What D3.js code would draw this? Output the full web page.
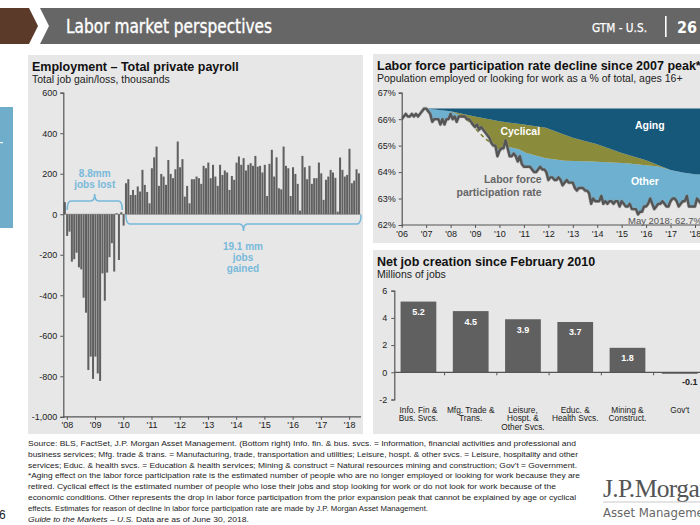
<!DOCTYPE html>
<html><head><meta charset="utf-8">
<script src="https://cdn.jsdelivr.net/npm/d3@7"></script>
<style>
body{margin:0;background:#fff}
svg{display:block}
text{font-family:"Liberation Sans",Arial,Helvetica,sans-serif}
</style>
</head><body>
<svg id="c" width="700" height="525"></svg>
<script>
// ---------------- DATA ----------------
// Monthly private payroll change, thousands, Jan 2008 - Jun 2018
const payroll = [
  60,-107,-86,-234,-222,-190,-262,-272,-412,-486,-769,-703,          // 2008
  -813,-703,-786,-823,-292,-427,-288,-212,-143,-283,5,-226,          // 2009
  10,-56,153,173,95,120,95,137,112,219,145,110,                       // 2010
  54,227,281,334,140,199,186,145,268,199,178,222,                     // 2011
  359,232,272,87,140,54,173,173,186,178,150,239,                      // 2012
  227,255,178,244,186,140,244,194,216,206,120,189,                    // 2013
  170,255,285,244,277,216,244,252,239,288,235,239,                    // 2014
  206,244,90,249,318,186,281,128,123,334,239,227,                     // 2015
  90,232,199,150,18,288,232,173,239,150,178,178,                      // 2016
  255,202,71,170,186,219,206,180,13,280,219,186,                      // 2017
  194,323,153,166,222,202                                             // 2018
];
const payYearLabels = ["'08","'09","'10","'11","'12","'13","'14","'15","'16","'17","'18"];
const payTicks = [600,400,200,0,-200,-400,-600,-800,-1000];

// Labor force participation rate, monthly, Jan 2006 - May 2018 (%)
const lfpr = [
  66.0,66.1,66.2,66.1,66.1,66.2,66.1,66.2,66.1,66.2,66.3,66.4,
  66.4,66.3,66.2,65.9,66.0,66.0,66.0,65.8,66.0,65.8,66.0,66.0,
  66.2,66.0,66.1,65.9,66.1,66.1,66.1,66.1,66.0,66.0,65.9,65.8,
  65.7,65.8,65.6,65.7,65.6,65.5,65.4,65.3,65.1,65.0,65.0,64.6,
  64.8,64.9,64.9,65.2,64.9,64.6,64.6,64.7,64.6,64.4,64.6,64.3,
  64.2,64.2,64.2,64.2,64.1,64.0,64.0,64.1,64.2,64.1,64.1,64.0,
  63.7,63.8,63.8,63.7,63.7,63.8,63.7,63.5,63.6,63.7,63.6,63.6,
  63.6,63.4,63.3,63.4,63.4,63.4,63.3,63.3,63.2,62.8,63.0,62.9,
  62.9,62.9,63.1,62.8,62.9,62.8,62.9,62.9,62.8,62.9,62.9,62.7,
  62.9,62.8,62.7,62.7,62.8,62.6,62.6,62.6,62.4,62.5,62.5,62.7,
  62.7,62.8,63.0,62.8,62.6,62.7,62.8,62.8,62.9,62.8,62.7,62.7,
  62.9,63.0,63.0,62.9,62.7,62.8,62.9,62.9,63.1,62.7,62.7,62.7,
  62.7,63.0,62.9,62.8,62.7
];
const lfprStartYear = 2006;
const peakLevel = 66.4;
// [year, %] boundary below "Aging" band
const agingBoundary = [[2007.0,66.4],[2008.0,66.3],[2009.0,66.1],[2010.0,65.92],[2011.0,65.8],[2011.9,65.68],
  [2012.5,65.47],[2013.0,65.3],[2014.0,65.05],[2015.0,64.72],[2016.0,64.45],[2017.0,64.08],[2017.5,63.98],
  [2018.0,63.92],[2018.42,63.9]];
// [year, %] boundary below "Cyclical" band
const cyclicalBoundary = [[2007.0,66.4],[2008.0,66.3],[2008.4,66.15],[2008.8,65.87],[2009.13,65.53],[2009.4,65.28],
  [2009.67,65.09],[2009.95,64.9],[2010.16,64.81],[2010.35,64.96],[2010.8,64.86],[2011.1,64.72],[2011.9,64.52],
  [2012.7,64.43],[2013.8,64.4],[2015.2,64.33],[2016.5,64.21],[2017.0,64.08],[2017.5,63.98],[2018.0,63.92],[2018.42,63.9]];
const dashedCyclical = [[2008.4,66.15],[2008.8,65.87],[2009.13,65.53],[2009.4,65.28],[2009.67,65.09],[2009.95,64.9],[2010.16,64.81]];
const lfprTicks = [67,66,65,64,63,62];
const lfprYearLabels = ["'06","'07","'08","'09","'10","'11","'12","'13","'14","'15","'16","'17","'18"];

// Net job creation since Feb 2010, millions
const sectors = [["Info. Fin &","Bus. Svcs."],["Mfg. Trade &","Trans."],["Leisure,","Hospt. &","Other Svcs."],
  ["Educ. &","Health Svcs."],["Mining &","Construct."],["Gov't"]];
const sectorValues = [5.2,4.5,3.9,3.7,1.8,-0.1];
const sectorTicks = [6,4,2,0,-2];

const footnotes = [
 "Source: BLS, FactSet, J.P. Morgan Asset Management. (Bottom right) Info. fin. & bus. svcs. = Information, financial activities and professional and",
 "business services; Mfg. trade & trans. = Manufacturing, trade, transportation and utilities; Leisure, hospt. & other svcs. = Leisure, hospitality and other",
 "services; Educ. & health svcs. = Education & health services; Mining & construct = Natural resources mining and construction; Gov't = Government.",
 "*Aging effect on the labor force participation rate is the estimated number of people who are no longer employed or looking for work because they are",
 "retired. Cyclical effect is the estimated number of people who lose their jobs and stop looking for work or do not look for work because of the",
 "economic conditions. Other represents the drop in labor force participation from the prior expansion peak that cannot be explained by age or cyclical",
 "effects. Estimates for reason of decline in labor force participation rate are made by J.P. Morgan Asset Management."
];
const footLengths = [548,550,549,552,528,548,400];

// ---------------- DRAW ----------------
const svg = d3.select("#c");
const fmt = v => d3.format(",")(v).replace("\u2212","-");
const PANEL = "#e7e7e7", BAR = "#606060", AX = "#555";

// header
svg.append("polygon").attr("points","0,8 29,8 38,26 29,44 0,44").attr("fill","#5c3a2a");
svg.append("polygon").attr("points","40,8 700,8 700,44 40,44 49,26").attr("fill","#666");
const cond = "'DejaVu Sans Condensed','DejaVu Sans',sans-serif";
svg.append("text").text("Labor market perspectives").attr("x",66).attr("y",33)
  .attr("fill","#fff").attr("stroke","#fff").attr("stroke-width",0.35)
  .style("font-family",cond).attr("font-size",19.5)
  .attr("textLength",206).attr("lengthAdjust","spacingAndGlyphs");
svg.append("text").text("GTM - U.S.").attr("x",592).attr("y",32).attr("fill","#fff")
  .attr("stroke","#fff").attr("stroke-width",0.25)
  .style("font-family",cond).attr("font-size",13).attr("textLength",55).attr("lengthAdjust","spacingAndGlyphs");
svg.append("rect").attr("x",665).attr("y",16).attr("width",1.6).attr("height",21).attr("fill","#fff");
svg.append("text").text("26").attr("x",677).attr("y",33).attr("fill","#fff")
  .style("font-family",cond).attr("font-size",16).attr("font-weight","bold");

// side fragments
svg.append("rect").attr("x",0).attr("y",107).attr("width",13).attr("height",121).attr("fill","#6fadca");
svg.append("rect").attr("x",0).attr("y",142).attr("width",3).attr("height",1.2).attr("fill","#fff");
svg.append("text").text("6").attr("x",-1).attr("y",519).attr("font-size",12).attr("fill","#222");

// panels
svg.append("rect").attr("x",28).attr("y",55).attr("width",335).attr("height",379).attr("fill",PANEL);
svg.append("rect").attr("x",373).attr("y",54).attr("width",327).attr("height",189).attr("fill",PANEL);
svg.append("rect").attr("x",373).attr("y",250).attr("width",327).attr("height",184).attr("fill",PANEL);

function title(x,y,t,s){
  svg.append("text").text(t).attr("x",x).attr("y",y).attr("font-size",12.5).attr("font-weight","bold").attr("fill","#111");
  svg.append("text").text(s).attr("x",x).attr("y",y+12).attr("font-size",10.5).attr("fill","#222");
}
function styleAxis(g){
  g.selectAll(".domain").attr("stroke",AX).attr("stroke-width",1.2);
  g.selectAll(".tick line").attr("stroke",AX);
  g.selectAll(".tick text").attr("fill","#222").attr("font-size",9)
   .style("font-family","'Liberation Sans',Arial,sans-serif");
}

// ===== Left chart =====
title(32,71,"Employment \u2013 Total private payroll","Total job gain/loss, thousands");
const yL = d3.scaleLinear().domain([-1000,600]).range([416.8,92.7]);
const xL = d3.scaleBand().domain(d3.range(payroll.length)).range([63.8,63.8+payroll.length*2.35]).paddingInner(0.14);
svg.append("line").attr("x1",63).attr("x2",361).attr("y1",yL(0)).attr("y2",yL(0)).attr("stroke","#8a8a8a").attr("stroke-width",0.8);
svg.append("g").selectAll("rect").data(payroll).join("rect")
  .attr("x",(d,i)=>xL(i)).attr("width",xL.bandwidth())
  .attr("y",d=>yL(Math.max(0,d))).attr("height",d=>Math.abs(yL(d)-yL(0)))
  .attr("fill",BAR);
const gyL = svg.append("g").attr("transform","translate(63.3,0)")
  .call(d3.axisLeft(yL).tickValues(payTicks).tickFormat(fmt).tickSize(3).tickPadding(3));
styleAxis(gyL);
const yrScaleL = d3.scalePoint().domain(payYearLabels)
  .range([xL(0)+3, xL(120)+3]);
const gxL = svg.append("g").attr("transform",`translate(0,${yL(-1000)})`)
  .call(d3.axisBottom(yrScaleL).tickSize(3).tickPadding(2));
gxL.select(".domain").attr("d",`M63.3,0H361`);
styleAxis(gxL);

// braces
const BL = "#78b9da";
function brace(x1,x2,y,dir,tip){
  const m=(x1+x2)/2, a=9*dir, r=4;
  return `M${x1},${y+a}Q${x1},${y} ${x1+r},${y}L${m-r},${y}Q${m},${y} ${m},${y-tip*dir}Q${m},${y} ${m+r},${y}L${x2-r},${y}Q${x2},${y} ${x2},${y+a}`;
}
svg.append("path").attr("d",brace(xL(1)+1,xL(24)+2,201,1,7)).attr("fill","none").attr("stroke",BL).attr("stroke-width",1.6);
svg.append("path").attr("d",brace(xL(26)+1,361,224,-1,7)).attr("fill","none").attr("stroke",BL).attr("stroke-width",1.6);
const bt = (x,y,t)=>svg.append("text").text(t).attr("x",x).attr("y",y).attr("text-anchor","middle")
  .attr("font-size",10).attr("font-weight","bold").attr("fill",BL);
const m1 = (xL(1)+xL(24)+3)/2;
bt(m1,177,"8.8mm"); bt(m1,188,"jobs lost");
const m2 = (xL(26)+361)/2;
bt(m2,250,"19.1 mm"); bt(m2,261,"jobs"); bt(m2,272,"gained");

// ===== Right top chart =====
title(377,70,"Labor force participation rate decline since 2007 peak*","Population employed or looking for work as a % of total, ages 16+");
const xR = d3.scaleLinear().domain([2006,2018]).range([401.7,695]);
const yR = d3.scaleLinear().domain([62,67]).range([225,92.7]);
const lf = lfpr.map((v,i)=>[lfprStartYear+i/12,v]);
const defs = svg.append("defs");
defs.append("clipPath").attr("id","aboveLine").append("path")
  .attr("d", d3.area().x(d=>xR(d[0])).y0(d=>yR(d[1])).y1(yR(67.5))(lf));
defs.append("clipPath").attr("id","plotR").append("rect").attr("x",401.7).attr("y",80).attr("width",298.3).attr("height",145);
const gR = svg.append("g").attr("clip-path","url(#plotR)");
const g2 = gR.append("g").attr("clip-path","url(#aboveLine)");
g2.append("path").attr("fill","#6db0cf")
  .attr("d", d3.area().x(d=>xR(d[0])).y0(yR(62)).y1(d=>yR(d[1]))(cyclicalBoundary));
const cycPoly = agingBoundary.map(d=>[xR(d[0]),yR(d[1])])
  .concat(cyclicalBoundary.slice().reverse().map(d=>[xR(d[0]),yR(d[1])]));
g2.append("path").attr("fill","#8b8b3c").attr("d","M"+cycPoly.join("L")+"Z");
gR.append("path").attr("fill","#16587a")
  .attr("d", d3.area().x(d=>xR(d[0])).y0(d=>yR(d[1])).y1(yR(peakLevel))(agingBoundary));
gR.append("path").attr("fill","none").attr("stroke","#7f8130").attr("stroke-width",1.6).attr("stroke-dasharray","4,3")
  .attr("d", d3.line().x(d=>xR(d[0])).y(d=>yR(d[1])).curve(d3.curveMonotoneX)(dashedCyclical));
gR.append("path").attr("fill","none").attr("stroke","#9a9a9a").attr("stroke-width",3.6).attr("stroke-linejoin","round").attr("opacity",0.5)
  .attr("d", d3.line().x(d=>xR(d[0])).y(d=>yR(d[1]))(lf));
gR.append("path").attr("fill","none").attr("stroke","#555").attr("stroke-width",2.4).attr("stroke-linejoin","round")
  .attr("d", d3.line().x(d=>xR(d[0])).y(d=>yR(d[1]))(lf));
const gyR = svg.append("g").attr("transform","translate(401.7,0)")
  .call(d3.axisLeft(yR).tickValues(lfprTicks).tickFormat(d=>d+"%").tickSize(3).tickPadding(3));
styleAxis(gyR);
const gxR = svg.append("g").attr("transform",`translate(0,${yR(62)})`)
  .call(d3.axisBottom(xR).tickValues(d3.range(2006,2019)).tickFormat((d,i)=>lfprYearLabels[i]).tickSize(3).tickPadding(3));
gxR.select(".domain").attr("d","M401.7,0H700");
styleAxis(gxR);
const wl = (x,y,t,c,anchor)=>svg.append("text").text(t).attr("x",x).attr("y",y).attr("text-anchor",anchor||"middle")
  .attr("font-size",10.5).attr("font-weight","bold").attr("fill",c);
wl(xR(2016.15),yR(65.62),"Aging","#fff");
wl(xR(2010.85),yR(65.42),"Cyclical","#fff");
wl(xR(2015.95),yR(63.5),"Other","#fff");
wl(541.7,yR(63.57),"Labor force","#666","end");
wl(541.7,yR(63.1),"participation rate","#666","end");
svg.append("text").text("May 2018: 62.7%").attr("x",628).attr("y",224).attr("font-size",9.5).attr("fill","#555");

// ===== Right bottom chart =====
title(377,266,"Net job creation since February 2010","Millions of jobs");
const yB = d3.scaleLinear().domain([-2,6]).range([399.5,290.7]);
const xB = d3.scaleBand().domain(d3.range(sectors.length)).range([394.3,703.9]).paddingInner(0.316).paddingOuter(0.12);
svg.append("g").selectAll("rect").data(sectorValues).join("rect")
  .attr("x",(d,i)=>xB(i)).attr("width",xB.bandwidth())
  .attr("y",d=>yB(Math.max(0,d))).attr("height",d=>Math.max(1.5,Math.abs(yB(d)-yB(0))))
  .attr("fill",BAR);
const gyB = svg.append("g").attr("transform","translate(394.3,0)")
  .call(d3.axisLeft(yB).tickValues(sectorTicks).tickSize(3).tickPadding(4).tickFormat(fmt));
styleAxis(gyB);
const stepB = xB.step();
const x0B = xB(0) - xB.paddingInner()*stepB/2;
svg.append("line").attr("x1",394.3).attr("x2",700).attr("y1",yB(0)).attr("y2",yB(0)).attr("stroke",AX).attr("stroke-width",1.2);
svg.append("g").selectAll("line").data(d3.range(1,sectors.length)).join("line")
  .attr("x1",d=>x0B+d*stepB).attr("x2",d=>x0B+d*stepB).attr("y1",yB(0)).attr("y2",yB(0)+3).attr("stroke",AX);
svg.append("g").selectAll("text").data(sectorValues).join("text")
  .attr("x",(d,i)=>xB(i)+xB.bandwidth()/2+(d<0?10:0))
  .attr("y",d=>d>=0?yB(d)+13.5:yB(0)+13)
  .attr("text-anchor","middle").attr("font-size",9).attr("font-weight","bold")
  .attr("fill",d=>d>=0?"#fff":"#222").text(d=>d.toFixed(1));
sectors.forEach((lines,i)=>{
  lines.forEach((t,j)=>{
    svg.append("text").text(t).attr("x",xB(i)+xB.bandwidth()/2).attr("y",412.5+j*8.6)
      .attr("text-anchor","middle").attr("font-size",8.3).attr("fill","#222");
  });
});

// ===== Footnotes =====
footnotes.forEach((t,i)=>{
  svg.append("text").text(t).attr("x",28).attr("y",446+i*10.8).attr("font-size",7.8).attr("fill","#222")
    .attr("textLength",footLengths[i]).attr("lengthAdjust","spacingAndGlyphs");
});
const last = svg.append("text").attr("x",28).attr("y",446+7*10.8).attr("font-size",7.8).attr("fill","#222")
  .attr("textLength",221).attr("lengthAdjust","spacingAndGlyphs");
last.append("tspan").attr("font-style","italic").text("Guide to the Markets \u2013 U.S.");
last.append("tspan").text(" Data are as of June 30, 2018.");

// logo
svg.append("text").text("J.P.Morgan").attr("x",603).attr("y",497).attr("font-size",25.5)
  .style("font-family","'Liberation Serif','DejaVu Serif',serif").attr("fill","#555").attr("letter-spacing",-0.6);
svg.append("line").attr("x1",603).attr("x2",700).attr("y1",502).attr("y2",502).attr("stroke","#bbb").attr("stroke-width",0.8);
svg.append("text").text("Asset Management").attr("x",603).attr("y",517).attr("font-size",13)
  .style("font-family",cond).attr("fill","#666");
</script>
</body></html>
